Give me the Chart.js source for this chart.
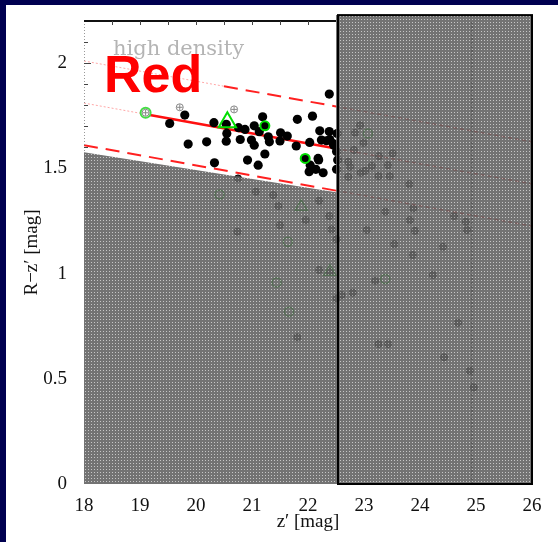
<!DOCTYPE html>
<html>
<head>
<meta charset="utf-8">
<script src="https://cdn.jsdelivr.net/npm/chart.js@4.4.1/dist/chart.umd.min.js"></script>
<style>
  html, body { margin: 0; padding: 0; background: #fff; }
</style>
</head>
<body>
<canvas id="cmdChart" width="558" height="542"></canvas>
<script>
// bright sample (unmasked region)
var redZ = [19.80, 19.53, 19.86, 20.19, 20.32, 20.33, 20.54, 20.76, 20.875, 21.04, 21.19, 20.55, 20.54, 20.79, 20.99,
            21.13, 21.29, 21.31, 21.04, 21.23, 20.92, 21.11, 21.81, 22.08, 21.51, 21.63, 21.79, 22.21, 22.38, 22.24,
            22.39, 22.52, 22.46, 22.18, 22.04, 22.02, 22.14, 22.27, 22.51, 22.53, 21.50, 22.03, 22.38, 22.33, 22.45,
            22.51, 22.19];
var redC = [1.753, 1.713, 1.615, 1.626, 1.717, 1.526, 1.709, 1.693, 1.685, 1.702, 1.745, 1.666, 1.629, 1.637, 1.634,
            1.674, 1.650, 1.626, 1.610, 1.568, 1.539, 1.515, 1.733, 1.748, 1.669, 1.653, 1.606, 1.678, 1.853, 1.634,
            1.637, 1.665, 1.610, 1.547, 1.515, 1.484, 1.495, 1.479, 1.495, 1.540, 1.630, 1.623, 1.675, 1.631, 1.618,
            1.580, 1.540];
var ringZ = [21.23, 21.95, 19.10];
var ringC = [1.702, 1.547, 1.764];
var plusZ = [19.71, 20.68, 19.10];
var plusC = [1.790, 1.780, 1.764];
var triZ = [20.56];
var triC = [1.719];

// points under the masked (gray) area
var maskedZ = [20.75, 21.07, 21.38, 21.47, 22.20, 21.96, 21.50, 22.38, 22.42, 20.74, 22.20, 22.51, 21.81, 22.51, 22.60,
               22.80, 23.38, 23.82, 23.88, 24.61, 24.82, 24.84, 23.05, 23.91, 23.54, 24.41, 23.87, 24.23, 23.20, 24.68,
               23.26, 23.43, 24.43, 24.89, 24.96, 22.93, 22.84, 22.99, 22.82, 23.27, 23.51, 22.72, 22.75, 23.14, 23.43,
               22.94, 23.02, 22.72, 23.26, 23.46, 23.81, 22.39];
var maskedC = [1.452, 1.389, 1.373, 1.321, 1.346, 1.254, 1.230, 1.273, 1.210, 1.199, 1.017, 0.882, 0.697, 1.163, 0.898,
               0.909, 1.294, 1.254, 1.310, 1.273, 1.246, 1.207, 1.207, 1.203, 1.140, 1.127, 1.088, 0.993, 0.966, 0.766,
               0.665, 0.665, 0.602, 0.538, 0.459, 1.705, 1.669, 1.621, 1.587, 1.558, 1.571, 1.531, 1.507, 1.511, 1.515,
               1.479, 1.488, 1.460, 1.463, 1.463, 1.425, 1.009];
var maskedRingZ = [20.42, 21.64, 21.44, 21.66, 23.38, 23.07];
var maskedRingC = [1.376, 1.151, 0.958, 0.819, 0.974, 1.666];
var maskedTriZ = [21.88, 22.39];
var maskedTriC = [1.317, 1.009];

// red sequence: centre line and +-0.2 limits
var lineZ = [18, 19.1, 20.5, 22.5, 26];
var centerC = [1.810, 1.757, 1.690, 1.594, 1.426];
var upperC = [2.010, 1.957, 1.890, 1.794, 1.626];
var lowerC = [1.610, 1.557, 1.490, 1.394, 1.226];

// masked area outline and completeness limit
var maskZ = [18, 22.5, 22.5, 26, 26, 18];
var maskC = [1.576, 1.386, 2.228, 2.228, 0, 0];
var limitZ = [24.93, 24.93];
var limitC = [0, 2.2];

var xTicks = [18, 19, 20, 21, 22, 23, 24, 25, 26];
var yTicks = [0, 0.5, 1, 1.5, 2];

function pts(zs, cs) {
    return zs.map(function (z, i) { return { x: z, y: cs[i] }; });
}
function seg(cs, a, b) {
    return [{ x: lineZ[a], y: cs[a] }, { x: lineZ[b], y: cs[b] }];
}
function lineSet(data, color, width, dash, order) {
    return { data: data, showLine: true, pointRadius: 0, borderColor: color, borderWidth: width,
             borderDash: dash, fill: false, order: order };
}

// stipple pattern for the masked area
var pc = document.createElement('canvas');
pc.width = 3; pc.height = 3;
var pctx = pc.getContext('2d');
pctx.fillStyle = 'rgba(96,96,96,0.88)';
pctx.fillRect(0, 0, 3, 3);
pctx.clearRect(1, 1, 1, 1);
pctx.fillStyle = 'rgba(190,190,190,0.88)';
pctx.fillRect(1, 1, 1, 1);

var serif = '"Liberation Serif", "Times New Roman", serif';

var framePlugin = {
    id: 'frame',
    beforeDraw: function (chart) {
        var c = chart.ctx;
        c.save();
        c.fillStyle = '#000050';
        c.fillRect(0, 0, chart.width, chart.height);
        c.fillStyle = '#ffffff';
        c.fillRect(6, 5, chart.width - 6, chart.height - 5);
        c.restore();
    },
    afterDatasetsDraw: function (chart) {
        var c = chart.ctx, xs = chart.scales.x, ys = chart.scales.y;
        var X = function (v) { return xs.getPixelForValue(v); };
        var Y = function (v) { return ys.getPixelForValue(v); };
        c.save();
        // frame of the unmasked part
        c.strokeStyle = '#999';
        c.lineWidth = 1;
        c.setLineDash([1, 2]);
        c.beginPath();
        c.moveTo(X(18) + 0.5, Y(2.2));
        c.lineTo(X(18) + 0.5, Y(maskC[0]));
        c.stroke();
        c.setLineDash([]);
        c.strokeStyle = '#111';
        c.lineWidth = 2;
        c.beginPath();
        c.moveTo(X(18), Y(2.2));
        c.lineTo(X(22.5), Y(2.2));
        c.stroke();
        c.lineWidth = 1;
        c.strokeStyle = '#444';
        for (var t = 18.5; t < 22.5; t += 0.5) {
            c.beginPath();
            c.moveTo(X(t) + 0.5, Y(2.2));
            c.lineTo(X(t) + 0.5, Y(2.2) + 4);
            c.stroke();
        }
        for (var k = 16; k <= 21; k++) {
            var len = (k % 5 === 0) ? 7 : 4;
            c.beginPath();
            c.moveTo(X(18), Math.round(Y(k / 10)) + 0.5);
            c.lineTo(X(18) + len, Math.round(Y(k / 10)) + 0.5);
            c.stroke();
        }
        // masked area
        c.fillStyle = c.createPattern(pc, 'repeat');
        c.beginPath();
        for (var i = 0; i < maskZ.length; i++) {
            if (i === 0) c.moveTo(X(maskZ[i]), Y(maskC[i]));
            else c.lineTo(X(maskZ[i]), Y(maskC[i]));
        }
        c.closePath();
        c.fill();
        c.strokeStyle = '#000';
        c.lineWidth = 2;
        c.strokeRect(X(22.5) + 2, Y(2.228), X(26) - X(22.5) - 2, Y(0) - Y(2.228));
        c.restore();
    },
    afterDraw: function (chart) {
        var c = chart.ctx, a = chart.chartArea;
        c.save();
        c.fillStyle = '#b4b4b4';
        c.font = '21px "DejaVu Serif"';
        c.textBaseline = 'alphabetic';
        c.fillText('high density', a.left + 29, a.top + 34);
        c.fillStyle = '#ff0000';
        c.font = 'bold 52px "Liberation Sans", Arial, sans-serif';
        c.fillText('Red', a.left + 20, a.top + 71);
        c.restore();
    }
};

var ctx = document.getElementById('cmdChart').getContext('2d');
var cmdChart = new Chart(ctx, {
    type: 'scatter',
    data: {
        datasets: [
            { data: pts(triZ, triC), pointStyle: 'triangle', pointRadius: 10, backgroundColor: 'rgba(0,0,0,0)',
              borderColor: '#00dd00', borderWidth: 2, order: 1 },
            { data: pts(plusZ, plusC), pointStyle: 'cross', pointRadius: 3, borderColor: '#888', borderWidth: 1, order: 2 },
            { data: pts(plusZ, plusC), pointStyle: 'circle', pointRadius: 3.5, backgroundColor: 'rgba(0,0,0,0)',
              borderColor: '#888', borderWidth: 1, order: 3 },
            { data: pts(ringZ.slice(0, 2), ringC.slice(0, 2)), pointStyle: 'circle', pointRadius: 4.5,
              backgroundColor: '#000', borderColor: '#00dd00', borderWidth: 2, order: 4 },
            { data: pts(ringZ.slice(2), ringC.slice(2)), pointStyle: 'circle', pointRadius: 5,
              backgroundColor: '#fff', borderColor: '#44dd44', borderWidth: 2, order: 5 },
            { data: pts(redZ, redC), pointStyle: 'circle', pointRadius: 4.6, backgroundColor: '#000',
              borderColor: '#000', borderWidth: 0, order: 6 },
            // red sequence
            lineSet(seg(centerC, 1, 3), '#ff1010', 2.5, [], 7),
            lineSet(seg(centerC, 0, 1), 'rgba(255,60,60,0.45)', 1, [2, 2], 8),
            lineSet(seg(upperC, 2, 3), '#ff2020', 2, [14, 8], 9),
            lineSet(seg(upperC, 0, 2), 'rgba(255,60,60,0.45)', 1, [2, 2], 10),
            lineSet(seg(lowerC, 0, 3), '#ff2020', 2, [14, 8], 11),
            lineSet(seg(centerC, 3, 4), '#ff3030', 1.5, [4, 3], 12),
            lineSet(seg(upperC, 3, 4), '#ff3030', 1.5, [4, 3], 13),
            lineSet(seg(lowerC, 3, 4), '#ff3030', 1.5, [4, 3], 14),
            lineSet(pts(limitZ, limitC), '#000', 1.5, [2, 2], 15),
            // masked sample
            { data: pts(maskedTriZ, maskedTriC), pointStyle: 'triangle', pointRadius: 7, backgroundColor: 'rgba(0,0,0,0)',
              borderColor: '#00c000', borderWidth: 1.5, order: 16 },
            { data: pts(maskedRingZ, maskedRingC), pointStyle: 'circle', pointRadius: 4.5, backgroundColor: 'rgba(0,0,0,0)',
              borderColor: '#00c000', borderWidth: 1.5, order: 17 },
            { data: pts(maskedZ, maskedC), pointStyle: 'circle', pointRadius: 3.5, backgroundColor: 'rgba(20,20,20,0.8)',
              borderColor: '#000', borderWidth: 1, order: 18 }
        ]
    },
    options: {
        responsive: false,
        animation: false,
        layout: { padding: { left: 0, top: 21, right: 26, bottom: 0 } },
        plugins: { legend: { display: false }, tooltip: { enabled: false } },
        scales: {
            x: {
                type: 'linear', min: 18, max: 26,
                afterFit: function (s) { s.height = 58; },
                afterBuildTicks: function (s) { s.ticks = xTicks.map(function (v) { return { value: v }; }); },
                grid: { display: false }, border: { display: false },
                ticks: { padding: 3, color: '#111', font: { family: serif, size: 19 },
                         callback: function (v) { return String(v); } },
                title: { display: true, text: 'z′ [mag]', color: '#111', font: { family: serif, size: 19 },
                         padding: { top: 0, bottom: 9 } }
            },
            y: {
                type: 'linear', min: 0, max: 2.2,
                afterFit: function (s) { s.width = 84; },
                afterBuildTicks: function (s) { s.ticks = yTicks.map(function (v) { return { value: v }; }); },
                grid: { display: false }, border: { display: false },
                ticks: { padding: 9, color: '#111', font: { family: serif, size: 19 },
                         callback: function (v) { return String(v); } },
                title: { display: true, text: 'R−z′ [mag]', color: '#111', font: { family: serif, size: 19 },
                         padding: { top: 21, bottom: 0 } }
            }
        }
    },
    plugins: [framePlugin]
});
</script>
</body>
</html>
